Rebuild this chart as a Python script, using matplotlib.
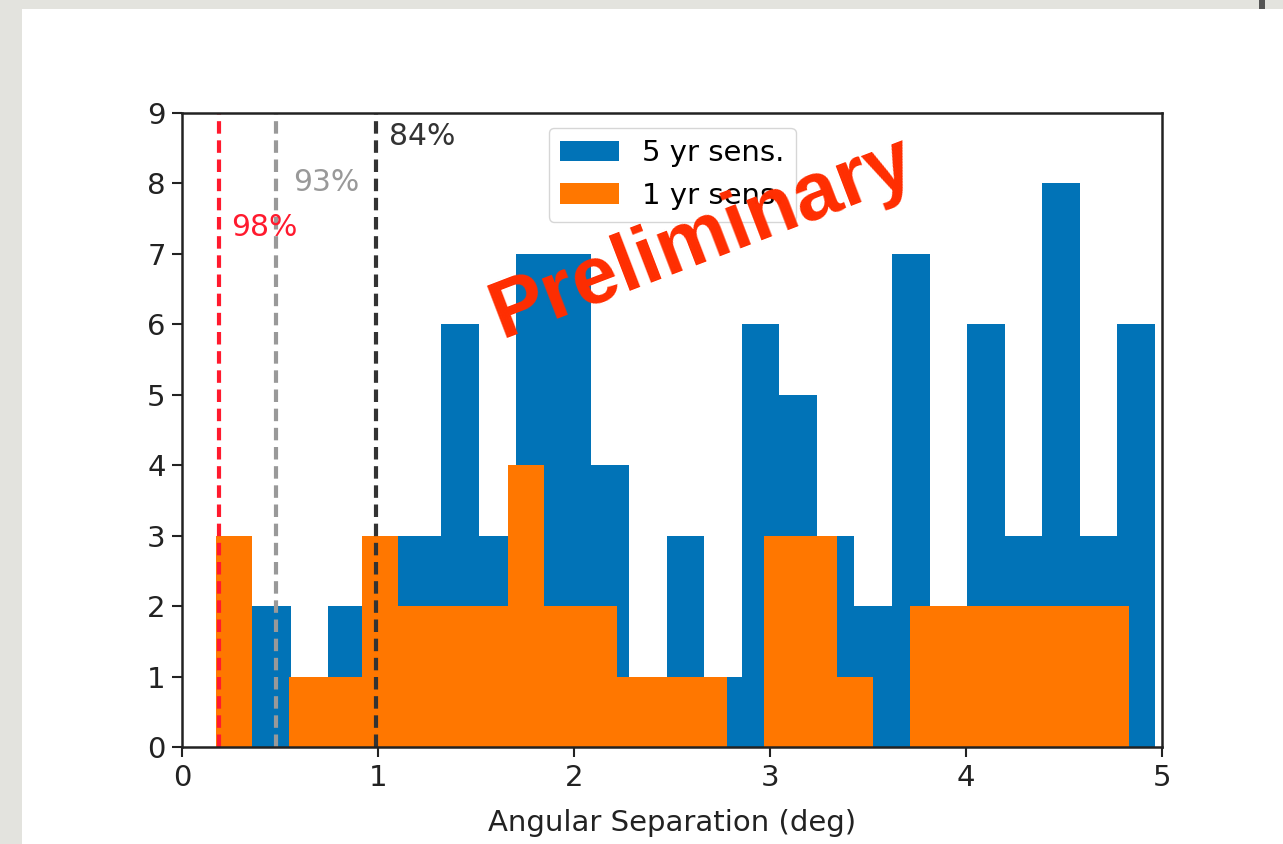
import numpy as np
import matplotlib
matplotlib.use("Agg")
import matplotlib.pyplot as plt
from matplotlib.patches import Rectangle

# ---- data ----
counts_5yr = [2, 2, 0, 2, 3, 3, 6, 3, 7, 7, 4, 1, 3, 1, 6, 5, 3, 2, 7, 2, 6, 3, 8, 3, 6]
counts_1yr = [3, 0, 1, 1, 3, 2, 2, 2, 4, 2, 2, 1, 1, 1, 0, 3, 3, 1, 0, 2, 2, 2, 2, 2, 2]
range_5yr = (0.17, 4.963)
range_1yr = (0.17, 4.830)
labels = ["5 yr sens.", "1 yr sens."]
cl_values = [0.185, 0.48, 0.99]
cl_labels = ["98%", "93%", "84%"]
cl_colors = ["#ff1a2e", "#999999", "#333333"]
cl_text_pos = [(0.25, 7.25), (0.565, 7.9), (1.055, 8.54)]
xlabel = "Angular Separation (deg)"
xticks = [0, 1, 2, 3, 4, 5]
yticks = list(range(10))

BLUE = "#0173b7"
ORANGE = "#ff7700"

fig = plt.figure(figsize=(12.83, 8.44), dpi=100)
fig.patch.set_facecolor("#e3e3de")
# white slide panel
fig.patches.append(Rectangle((22 / 1283, 0), 1 - 22 / 1283, 1 - 9 / 844,
                             transform=fig.transFigure, facecolor="white",
                             edgecolor="none", zorder=-5))
fig.patches.append(Rectangle((1259 / 1283, 1 - 9 / 844), 6 / 1283, 9 / 844,
                             transform=fig.transFigure, facecolor="#555555",
                             edgecolor="none", zorder=-5))

ax = fig.add_axes([182.3 / 1283, 1 - 747.3 / 844, 980 / 1283, 634.3 / 844])
ax.set_zorder(1)

e5 = np.linspace(range_5yr[0], range_5yr[1], len(counts_5yr) + 1)
e1 = np.linspace(range_1yr[0], range_1yr[1], len(counts_1yr) + 1)
c5 = 0.5 * (e5[:-1] + e5[1:])
c1 = 0.5 * (e1[:-1] + e1[1:])
ax.hist(c5, bins=e5, weights=counts_5yr, color=BLUE, label=labels[0])
ax.hist(c1, bins=e1, weights=counts_1yr, color=ORANGE, label=labels[1])

for v, lab, col, (tx, ty) in zip(cl_values, cl_labels, cl_colors, cl_text_pos):
    ax.axvline(v, color=col, linestyle=(0, (3.0, 1.6)), linewidth=3.0)
    ax.text(tx, ty, lab, color=col, fontsize=21.5, va="baseline", ha="left")

ax.set_xlim(0, 5)
ax.set_ylim(0, 9)
ax.set_xticks(xticks)
ax.set_yticks(yticks)
ax.tick_params(labelsize=21, length=7, width=1.5, colors="#222222", pad=5)
for s in ax.spines.values():
    s.set_linewidth(1.8)
    s.set_color("#222222")
ax.set_xlabel(xlabel, fontsize=21, color="#222222", labelpad=12)

leg = ax.legend(loc="upper center", fontsize=21)

# Preliminary stamp
fig.text(703 / 1283, 1 - 238 / 844, "Preliminary", fontsize=59, fontweight="heavy",
         family="Liberation Sans", color="#ff2d00",
         rotation=21, ha="center", va="center",
         rotation_mode="anchor", zorder=10)

fig.savefig("out.png", dpi=100, facecolor=fig.get_facecolor())
